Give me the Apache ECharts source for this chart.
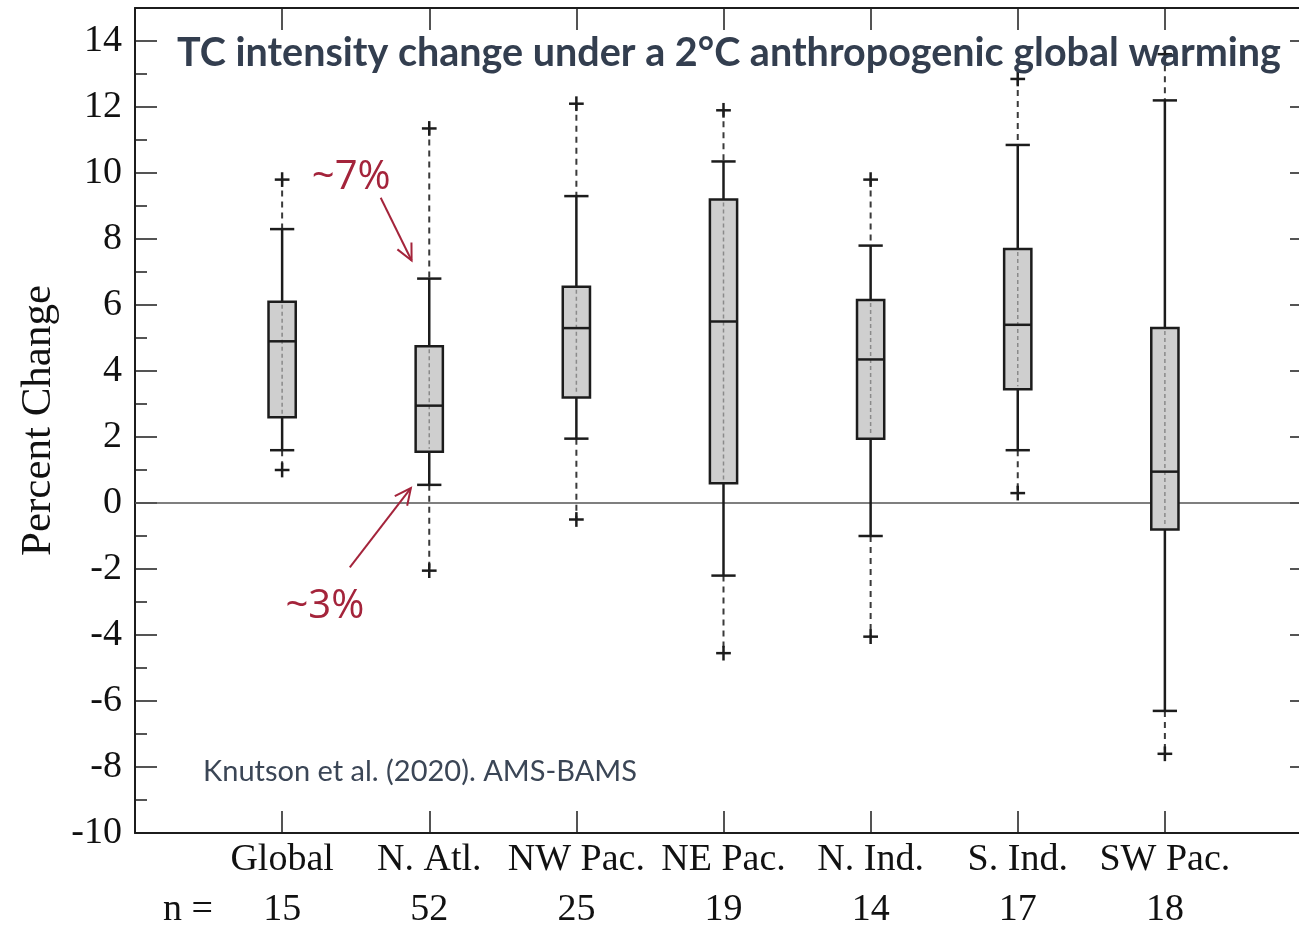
<!DOCTYPE html>
<html>
<head>
<meta charset="utf-8">
<script src="https://cdn.jsdelivr.net/npm/echarts@6/dist/echarts.min.js"></script>
<style>
  html, body { margin: 0; padding: 0; background: #ffffff; }
  #chart { width: 1299px; height: 926px; }
</style>
</head>
<body>
<div id="chart"></div>
<script>
// Basins and number of model projections per basin
const regions = ['Global', 'N. Atl.', 'NW Pac.', 'NE Pac.', 'N. Ind.', 'S. Ind.', 'SW Pac.'];
const sampleCounts = [15, 52, 25, 19, 14, 17, 18];

// Percent change in TC intensity, per basin
const outerLow    = [1.0, -2.05, -0.5, -4.55, -4.05, 0.3, -7.6];
const whiskerLow  = [1.6, 0.55, 1.95, -2.2, -1.0, 1.6, -6.3];
const lowerQuart  = [2.6, 1.55, 3.2, 0.6, 1.95, 3.45, -0.8];
const medians     = [4.9, 2.95, 5.3, 5.5, 4.35, 5.4, 0.95];
const upperQuart  = [6.1, 4.75, 6.55, 9.2, 6.15, 7.7, 5.3];
const whiskerHigh = [8.3, 6.8, 9.3, 10.35, 7.8, 10.85, 12.2];
const outerHigh   = [9.8, 11.35, 12.1, 11.9, 9.8, 12.85, 13.6];

// Value range of the percent-change axis
const yMin = -10, yMax = 15;

// Callouts for the North Atlantic medians, in axis units
const callouts = [
  { text: '~7%', label: [1.47, 9.85], from: [1.67, 9.25], to: [1.88, 7.35] },
  { text: '~3%', label: [1.29, -3.15], from: [1.46, -1.95], to: [1.875, 0.45] }
];

const boxData = regions.map((r, i) => [
  i + 1, outerLow[i], whiskerLow[i], lowerQuart[i], medians[i],
  upperQuart[i], whiskerHigh[i], outerHigh[i]
]);

const ink = '#1c1c1c';
const serif = 'Liberation Serif';
const red = '#a4243b';
const slate = '#333e4f';

function renderBox(params, api) {
  const x = api.value(0);
  const py = k => api.coord([x, api.value(k)])[1];
  const cx = api.coord([x, 0])[0];
  const yOL = py(1), yWL = py(2), yQ1 = py(3), yMed = py(4), yQ3 = py(5), yWH = py(6), yOH = py(7);
  const unit = api.size([1, 0])[0];
  const boxW = unit * 0.185, capW = unit * 0.165, plusHalf = unit * 0.05;
  const solid = { stroke: ink, lineWidth: 2.5 };
  const dashed = { stroke: '#3a3a3a', lineWidth: 2, lineDash: [6, 5] };
  const vline = (y1, y2, style) => ({ type: 'line', shape: { x1: cx, y1: y1, x2: cx, y2: y2 }, style: style });
  const hline = (y, half, style) => ({ type: 'line', shape: { x1: cx - half, y1: y, x2: cx + half, y2: y }, style: style });
  const plus = y => [hline(y, plusHalf, solid), { type: 'line', shape: { x1: cx, y1: y - plusHalf, x2: cx, y2: y + plusHalf }, style: solid }];
  return {
    type: 'group',
    children: [
      vline(yWL, yOL, dashed),
      vline(yOH, yWH, dashed),
      vline(yQ1, yWL, solid),
      vline(yWH, yQ3, solid),
      { type: 'rect', shape: { x: cx - boxW / 2, y: yQ3, width: boxW, height: yQ1 - yQ3 },
        style: { fill: '#cfcfcf', stroke: ink, lineWidth: 2.5 } },
      vline(yQ3 + 3, yQ1 - 3, { stroke: '#8a8a8a', lineWidth: 1.5, lineDash: [4, 3] }),
      hline(yMed, boxW / 2, solid),
      hline(yWL, capW / 2, solid),
      hline(yWH, capW / 2, solid)
    ].concat(plus(yOL), plus(yOH))
  };
}

const axisLine = { show: true, onZero: false, lineStyle: { color: ink, width: 2 } };
const tickStyle = { color: ink, width: 1.5 };

const chart = echarts.init(document.getElementById('chart'), null, { renderer: 'canvas' });

chart.setOption({
  animation: false,
  backgroundColor: '#ffffff',
  title: {
    text: 'TC intensity change under a 2°C anthropogenic global warming',
    left: 172, top: 28,
    textStyle: { fontFamily: 'Lato', fontWeight: 'bold', fontSize: 39.5, color: slate }
  },
  grid: { left: 135, top: 8, right: -13, bottom: 93, containLabel: false, outerBoundsMode: 'none' },
  xAxis: [
    {
      type: 'value', position: 'bottom', min: 0, max: 8, interval: 1,
      axisLine: axisLine,
      axisTick: { inside: true, length: 22, lineStyle: tickStyle },
      splitLine: { show: false },
      axisLabel: {
        margin: 2,
        formatter: v => (Number.isInteger(v) && v >= 1 && v <= regions.length)
          ? '{c|' + regions[v - 1] + '}\n{n|' + sampleCounts[v - 1] + '}' : '',
        rich: {
          c: { fontFamily: serif, fontSize: 38, color: '#111', lineHeight: 50 },
          n: { fontFamily: serif, fontSize: 38, color: '#111', lineHeight: 50 }
        }
      }
    },
    {
      type: 'value', position: 'top', min: 0, max: 8, interval: 1,
      axisLine: axisLine,
      axisTick: { inside: true, length: 22, lineStyle: tickStyle },
      axisLabel: { show: false },
      splitLine: { show: false }
    }
  ],
  yAxis: [
    {
      type: 'value', position: 'left', min: yMin, max: yMax, interval: 2,
      axisLine: axisLine,
      axisTick: { inside: true, length: 22, lineStyle: tickStyle },
      axisLabel: { margin: 13, showMaxLabel: false, fontFamily: serif, fontSize: 38, color: '#111' },
      splitLine: { show: false },
      name: 'Percent Change', nameLocation: 'middle', nameGap: 74, nameRotate: 90,
      nameTextStyle: { fontFamily: serif, fontSize: 43, color: '#111' }
    },
    {
      type: 'value', position: 'left', min: yMin, max: yMax, interval: 1, offset: 0,
      axisLine: { show: false, onZero: false },
      axisTick: { inside: true, length: 12, lineStyle: tickStyle },
      axisLabel: { show: false },
      splitLine: { show: false }
    },
    {
      type: 'value', position: 'right', min: yMin, max: yMax, interval: 2,
      axisLine: axisLine,
      axisTick: { inside: true, length: 22, lineStyle: tickStyle },
      axisLabel: { show: false },
      splitLine: { show: false }
    }
  ],
  series: [
    {
      type: 'line', xAxisIndex: 0, yAxisIndex: 0,
      data: [[0, 0], [8, 0]],
      symbol: 'none', silent: true, z: 1,
      lineStyle: { color: '#555', width: 1.5 }
    },
    {
      type: 'custom', xAxisIndex: 0, yAxisIndex: 0,
      data: boxData, renderItem: renderBox, z: 2,
      encode: { x: 0, y: [1, 2, 3, 4, 5, 6, 7] }
    }
  ]
});

// Text notes and callout arrows placed from axis units
const toPx = p => chart.convertToPixel({ gridIndex: 0 }, p);
const graphics = [
  { type: 'text', left: 203, top: 757, z: 10,
    style: { text: 'Knutson et al. (2020). AMS-BAMS', font: '29px Lato', fill: '#3b4656' } },
  { type: 'text', x: 188, y: 910, z: 10,
    style: { text: 'n =', font: '38px "Liberation Serif"', fill: '#111', align: 'center', verticalAlign: 'middle' } }
];
callouts.forEach(c => {
  const lp = toPx(c.label), a = toPx(c.from), b = toPx(c.to);
  graphics.push({ type: 'text', x: lp[0], y: lp[1], z: 10,
    style: { text: c.text, font: '40px "Open Sans"', fill: red, align: 'center', verticalAlign: 'middle' } });
  graphics.push({ type: 'line', z: 10, shape: { x1: a[0], y1: a[1], x2: b[0], y2: b[1] },
    style: { stroke: red, lineWidth: 2 } });
  const ang = Math.atan2(b[1] - a[1], b[0] - a[0]);
  const head = 18, spread = 0.45;
  graphics.push({ type: 'polyline', z: 10,
    shape: { points: [
      [b[0] - head * Math.cos(ang - spread), b[1] - head * Math.sin(ang - spread)],
      [b[0], b[1]],
      [b[0] - head * Math.cos(ang + spread), b[1] - head * Math.sin(ang + spread)]
    ] },
    style: { stroke: red, lineWidth: 2, fill: null } });
});
chart.setOption({ graphic: graphics });
</script>
</body>
</html>
